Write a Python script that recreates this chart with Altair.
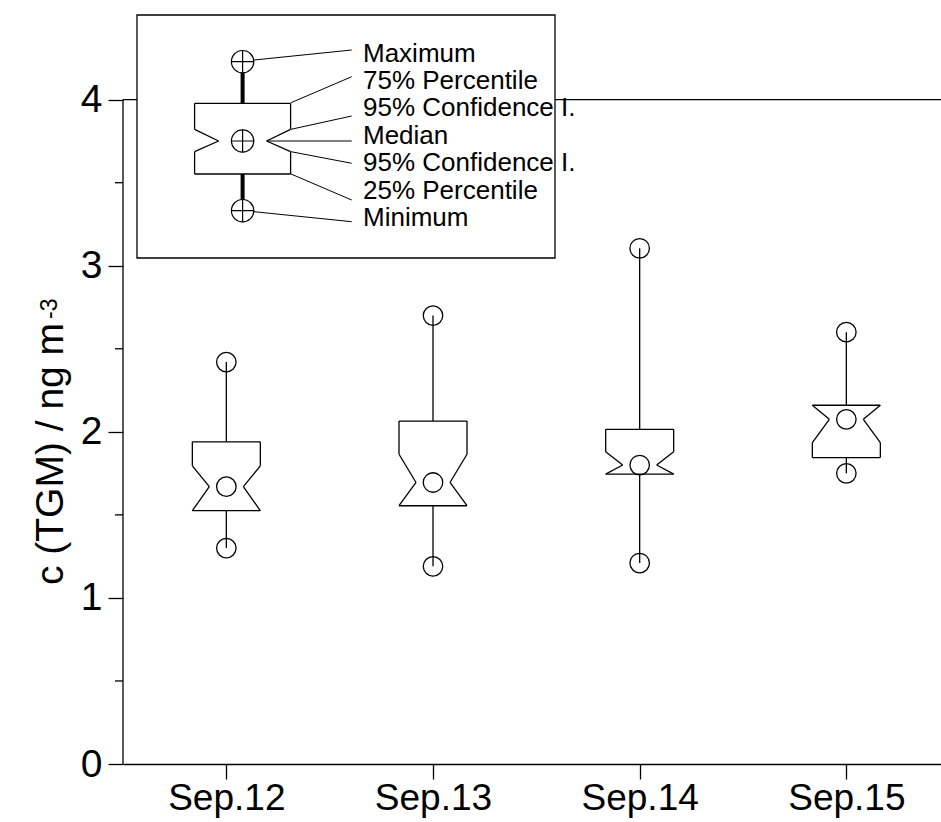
import altair as alt
import pandas as pd

# ---- data: daily TGM concentration statistics (ng m-3) ----
days = ["Sep.12", "Sep.13", "Sep.14", "Sep.15"]
pos = [1, 2, 3, 4]
tgm_min = [1.30, 1.19, 1.21, 1.75]
tgm_q1 = [1.525, 1.555, 1.745, 1.845]
tgm_ci_low = [1.525, 1.555, 1.745, 1.935]
tgm_median = [1.67, 1.695, 1.80, 2.075]
tgm_ci_high = [1.795, 1.865, 1.88, 2.16]
tgm_q3 = [1.94, 2.065, 2.015, 2.16]
tgm_max = [2.42, 2.70, 3.105, 2.60]

y_major = [0, 1, 2, 3, 4]
y_minor = [0.5, 1.5, 2.5, 3.5]

# explanation key (drawn in pixel space inside the framed box)
key_labels = ["Maximum", "75% Percentile", "95% Confidence I.", "Median",
              "95% Confidence I.", "25% Percentile", "Minimum"]

FONT = "Liberation Sans"
INK = "#000000"
W, H = 818, 764
X_DOMAIN = [0.5, 4.458]
Y_DOMAIN = [0, 4.6]

stats = pd.DataFrame({
    "pos": pos, "day": days, "min": tgm_min, "q1": tgm_q1, "ci_low": tgm_ci_low,
    "median": tgm_median, "ci_high": tgm_ci_high, "q3": tgm_q3, "max": tgm_max,
})

xscale = alt.Scale(domain=X_DOMAIN, nice=False, zero=False)
yscale = alt.Scale(domain=Y_DOMAIN, nice=False, zero=False)
label_expr = "[" + ",".join(f"'{d}'" for d in days) + "][datum.value - 1]"
xaxis = alt.Axis(values=pos, labelExpr=label_expr, title=None, grid=False,
                 tickSize=15, tickColor=INK, tickWidth=1.3, domainColor=INK,
                 domainWidth=1.3, labelFont=FONT, labelFontSize=37,
                 labelColor=INK, labelPadding=1)
yaxis = alt.Axis(values=y_major, title=None, grid=False, domain=False,
                 tickSize=15, tickColor=INK, tickWidth=1.3, labelFont=FONT,
                 labelFontSize=39, labelColor=INK, labelPadding=6)


def dX(f):
    return alt.X(f"{f}:Q", scale=xscale, axis=xaxis)


def dY(f):
    return alt.Y(f"{f}:Q", scale=yscale, axis=yaxis)


def pX(f):
    return alt.X(f"{f}:Q", scale=None, axis=None)


def pY(f):
    return alt.Y(f"{f}:Q", scale=None, axis=None)


def notched_box(df, X, Y, half, inner, sw):
    """Outline of a notched box: top/bottom edges plus notched sides."""
    base = alt.Chart(df)
    rule = dict(color=INK, strokeWidth=sw)
    layers = [
        base.mark_rule(xOffset=-half, x2Offset=half, **rule).encode(
            x=X("pos"), x2=alt.X2("pos"), y=Y("q3")),
        base.mark_rule(xOffset=-half, x2Offset=half, **rule).encode(
            x=X("pos"), x2=alt.X2("pos"), y=Y("q1")),
    ]
    for s in (-1, 1):
        layers += [
            base.mark_rule(xOffset=s * half, **rule).encode(
                x=X("pos"), y=Y("q3"), y2=alt.Y2("ci_high")),
            base.mark_rule(xOffset=s * half, x2Offset=s * inner, **rule).encode(
                x=X("pos"), x2=alt.X2("pos"), y=Y("ci_high"), y2=alt.Y2("median")),
            base.mark_rule(xOffset=s * inner, x2Offset=s * half, **rule).encode(
                x=X("pos"), x2=alt.X2("pos"), y=Y("median"), y2=alt.Y2("ci_low")),
            base.mark_rule(xOffset=s * half, **rule).encode(
                x=X("pos"), y=Y("ci_low"), y2=alt.Y2("q1")),
        ]
    return layers


# ---- axes decoration ----
frame = pd.DataFrame({"lo": [0], "hi": [4]})
y_axis_line = alt.Chart(frame).mark_rule(color=INK, strokeWidth=1.3).encode(
    x=alt.value(0), y=dY("lo"), y2=alt.Y2("hi"))
top_line = alt.Chart(frame).mark_rule(color=INK, strokeWidth=1.3).encode(
    x=alt.value(0), x2=alt.value(W), y=dY("hi"))
minor = alt.Chart(pd.DataFrame({"v": y_minor})).mark_rule(
    color=INK, strokeWidth=1.3).encode(x=alt.value(-8), x2=alt.value(0), y=dY("v"))

# ---- data boxes ----
base = alt.Chart(stats)
whisk = dict(color=INK, strokeWidth=1.3)
upper_whisker = base.mark_rule(**whisk).encode(x=dX("pos"), y=dY("max"), y2=alt.Y2("q3"))
lower_whisker = base.mark_rule(**whisk).encode(x=dX("pos"), y=dY("q1"), y2=alt.Y2("min"))
circ = dict(shape="circle", filled=False, size=380, color=INK, strokeWidth=1.3, opacity=1)
circles = [base.mark_point(**circ).encode(x=dX("pos"), y=dY(f)) for f in ("max", "min", "median")]
boxes = notched_box(stats, dX, dY, 34, 17, 1.3)

# ---- explanation key (pixel space) ----
key_frame = pd.DataFrame({"x0": [14], "x1": [432], "y0": [15], "y1": [258]})
key_rect = alt.Chart(key_frame).mark_rect(fill="white", stroke=INK, strokeWidth=1.3).encode(
    x=pX("x0"), x2=alt.X2("x1"), y=pY("y0"), y2=alt.Y2("y1"))

key_box = pd.DataFrame({"pos": [119.6], "max": [61.7], "q3": [103.3], "ci_high": [129.3],
                        "median": [141.0], "ci_low": [151.7], "q1": [174.0], "min": [210.7]})
kb = alt.Chart(key_box)
key_whiskers = [
    kb.mark_rule(color=INK, strokeWidth=4).encode(x=pX("pos"), y=pY("max"), y2=alt.Y2("q3")),
    kb.mark_rule(color=INK, strokeWidth=4).encode(x=pX("pos"), y=pY("q1"), y2=alt.Y2("min")),
]
kc = dict(filled=False, size=500, color=INK, strokeWidth=1.2, opacity=1)
key_circles = []
for f in ("max", "median", "min"):
    key_circles.append(kb.mark_point(shape="circle", fill="white", **{k: v for k, v in kc.items() if k != "filled"}).encode(x=pX("pos"), y=pY(f)))
    key_circles.append(kb.mark_point(shape="M-1,0L1,0M0,-1L0,1", **kc).encode(x=pX("pos"), y=pY(f)))
key_outline = notched_box(key_box, pX, pY, 48, 24, 1.3)

leaders = pd.DataFrame({
    "x0": [131, 168, 168, 143.7, 168, 168, 131],
    "y0": [60, 102.7, 129.3, 141, 151.7, 174, 211.7],
    "x1": [228.7] * 7,
    "y1": [50, 76.7, 116, 141, 163.3, 200, 221.7],
})
key_leaders = alt.Chart(leaders).mark_rule(color=INK, strokeWidth=1).encode(
    x=pX("x0"), x2=alt.X2("x1"), y=pY("y0"), y2=alt.Y2("y1"))

key_text_df = pd.DataFrame({
    "label": key_labels,
    "x": [240] * 7,
    "y": [61.5, 88.9, 116.3, 143.7, 171.1, 198.5, 225.9],
})
key_text = alt.Chart(key_text_df).mark_text(
    align="left", baseline="alphabetic", font=FONT, fontSize=26, color=INK).encode(
    x=pX("x"), y=pY("y"), text="label:N")

# ---- y axis title with superscript ----
title_df = pd.DataFrame({"t": ["c (TGM) / ng m"], "s": ["-3"]})
y_title = alt.Chart(title_df).mark_text(
    angle=270, align="center", baseline="alphabetic", font=FONT, fontSize=39, color=INK).encode(
    x=alt.value(-60), y=alt.value(454), text="t:N")
y_title_sup = alt.Chart(title_df).mark_text(
    angle=270, align="left", baseline="alphabetic", font=FONT, fontSize=23, color=INK).encode(
    x=alt.value(-66), y=alt.value(319), text="s:N")

chart = alt.layer(
    top_line, y_axis_line, minor,
    upper_whisker, lower_whisker, *boxes, *circles,
    key_rect, *key_whiskers, *key_outline, *key_circles, key_leaders, key_text,
    y_title, y_title_sup,
).properties(
    width=W, height=H,
    padding={"left": 123, "top": 0, "right": 0, "bottom": 58},
    autosize=alt.AutoSizeParams(type="none"),
    background="white",
).configure_view(stroke=None)

chart.save("out.html", embed_options={"renderer": "svg", "actions": False})
